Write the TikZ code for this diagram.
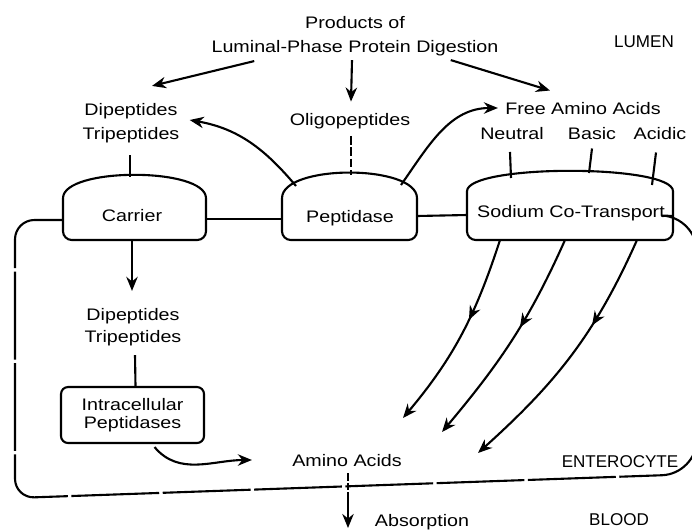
\documentclass[tikz,border=0pt]{standalone}
\usepackage{fontspec}
\setmainfont{Liberation Sans}[FakeStretch=1.18]
\newfontfamily\versalfont{Liberation Sans}
\usetikzlibrary{arrows.meta,decorations.markings}

\tikzset{
    linie/.style={line width=1.2pt},
    pfeil/.style={linie, -{Stealth[length=8pt,width=6.5pt]}},
    mittelpfeil/.style={pfeil, postaction={decorate},
        decoration={markings, mark=at position #1 with {\arrow{Stealth[length=8pt,width=6.5pt]}}}},
    schrift/.style={font=\fontsize{9.5}{13.6}\selectfont, inner sep=0pt, align=center},
    versal/.style={font=\versalfont\fontsize{9.7}{12}\selectfont, inner sep=0pt}
}

% Kuppel: links, rechts, Seitenoberkante, Kontrollhoehe
\newcommand{\kuppel}[4]{%
    \draw[linie, rounded corners=5pt] (#1,-#3) .. controls (#1,-#4) and (#2,-#4) .. (#2,-#3)
        -- (#2,-240) -- (#1,-240) -- cycle;}

\begin{document}
\begin{tikzpicture}[x=0.02cm, y=0.02cm]
    \useasboundingbox (0,0) rectangle (692,-531);
    % Membran:
    \draw[linie, dash pattern=on 50pt off 2pt, rounded corners=11pt] (63,-220) -- (15,-220) -- (15,-498)
        [rounded corners=20pt] -- (697,-474) -- (697,-217) -- (673,-216);
    \draw[linie] (206,-219) -- (282,-219); % zwischen Carrier und Peptidase
    \draw[linie] (417,-216) -- (467,-215); % zwischen Peptidase und Transport
    % Kuppeln:
    \kuppel{63}{206}{207}{167}
    \kuppel{282}{417}{207}{164}
    \kuppel{467}{673}{200}{164}
    \coordinate (carTop) at (130,-177);
    \coordinate (carBot) at (132,-240);
    \coordinate (pepTop) at (351,-175);
    \coordinate (pepL) at (296,-186);
    \coordinate (pepR) at (401,-185);
    \coordinate (sodN) at (511,-178);
    \coordinate (sodB) at (589,-173);
    \coordinate (sodA) at (652,-185);
    \coordinate (s1) at (500,-240);
    \coordinate (s2) at (565,-240);
    \coordinate (s3) at (637,-240);
    \coordinate (e1) at (403,-418);
    \coordinate (e2) at (442,-432);
    \coordinate (e3) at (478,-453);
    \coordinate (durch) at (348,-492);
    \coordinate (blut) at (348,-528);

    % Texte:
    \node[schrift] (prod) at (355,-36) {Products of\\Luminal-Phase Protein Digestion};
    \node[versal] (lumen) at (644,-42) {LUMEN};
    \node[schrift] (dt1) at (131,-123) {Dipeptides\\Tripeptides};
    \node[schrift] (oligo) at (350,-120.7) {Oligopeptides};
    \node[schrift] (faa) at (583,-109) {Free Amino Acids};
    \node[schrift] (neu) at (512,-133.5) {Neutral};
    \node[schrift] (bas) at (592,-134) {Basic};
    \node[schrift] (aci) at (660,-134) {Acidic};
    \node[schrift] (car) at (132,-216) {Carrier};
    \node[schrift] (pep) at (350,-218) {Peptidase};
    \node[schrift] (sod) at (571,-213) {Sodium Co-Transport};
    \node[schrift, font=\fontsize{9.5}{12.5}\selectfont] (dt2) at (133,-327) {Dipeptides\\Tripeptides};
    \node[schrift, font=\fontsize{9.5}{10.2}\selectfont, draw, linie, rounded corners=4pt,
        minimum width=2.86cm, minimum height=1.12cm] (ipep) at (132.5,-415) {Intracellular\\Peptidases};
    \node[schrift] (aa) at (347,-461) {Amino Acids};
    \node[versal] (ent) at (620,-462) {ENTEROCYTE};
    \node[schrift] (abs) at (422,-522.5) {Absorption};
    \node[versal] (blood) at (619,-520) {BLOOD};

    % Pfeile oben:
    \draw[pfeil] ([shift={(43,-5)}]prod.south west) -- ([shift={(21,17)}]dt1.north);
    \draw[pfeil] ([shift={(-3,-4)}]prod.south) -- ([shift={(1,11)}]oligo.north);
    \draw[pfeil] ([shift={(-48,-4)}]prod.south east) -- ([shift={(-33,12)}]faa.north);
    \draw[linie] ([shift={(-1,-12)}]dt1.south) -- (carTop);
    \draw[linie, dash pattern=on 5pt off 1.5pt] ([shift={(1,-7)}]oligo.south) -- (pepTop);
    \draw[pfeil] (pepL) to[out=130, in=-10] ([shift={(10,3)}]dt1.east);
    \draw[pfeil] (pepR) to[out=55, in=180] ([shift={(-7,1)}]faa.west);
    \draw[linie] ([shift={(-2,-12)}]neu.south) -- (sodN);
    \draw[linie] ([shift={(0,-8)}]bas.south) -- (sodB);
    \draw[linie] ([shift={(-4,-12)}]aci.south) -- (sodA);
    % in der Zelle:
    \draw[pfeil] (carBot) -- ([shift={(-1,17)}]dt2.north);
    \draw[linie] ([shift={(2,-9)}]dt2.south) -- ([shift={(3,0)}]ipep.north);
    \draw[pfeil] ([shift={(22,-3)}]ipep.south) to[out=-50, in=180] ([shift={(-40,1)}]aa.west);
    \draw[mittelpfeil=0.42] (s1) to[out=-108, in=50] (e1);
    \draw[mittelpfeil=0.43] (s2) to[out=-114, in=50] (e2);
    \draw[mittelpfeil=0.36] (s3) to[out=-114, in=42] (e3);
    % ins Blut:
    \draw[linie, dash pattern=on 4pt off 1.5pt] ([shift={(1,-6)}]aa.south) -- (durch);
    \draw[pfeil] (durch) -- (blut);
\end{tikzpicture}
\end{document}
